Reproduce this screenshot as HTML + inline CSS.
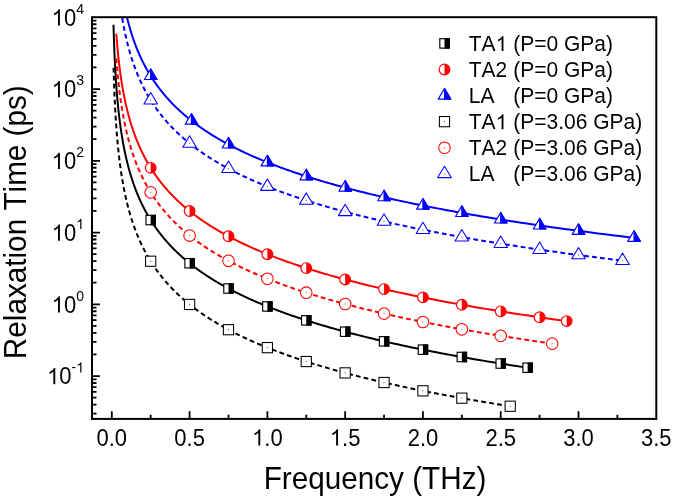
<!DOCTYPE html><html><head><meta charset="utf-8"><style>html,body{margin:0;padding:0;background:#fff;}svg{display:block;filter:blur(0.3px);}.t{opacity:0.995}text{font-family:"Liberation Sans",sans-serif;font-kerning:none;}</style></head><body>
<svg width="675" height="499" viewBox="0 0 675 499">
<defs><clipPath id="c"><rect x="92.0" y="17.2" width="564.3" height="401.7"/></clipPath></defs>
<defs><path id="one" d="M763,0 L583,0 L583,1102 Q518,1043 412.5,983 Q307,924 223,894 L223,1061 Q374,1129 488,1226 Q602,1323 647,1409 L763,1409 Z"/></defs>
<rect width="675" height="499" fill="#fff"/>
<g clip-path="url(#c)" fill="none" stroke-width="2" stroke-linejoin="round">
<polyline points="113.50,24.82 113.52,25.68 113.54,26.54 113.57,27.39 113.59,28.25 113.62,29.11 113.64,29.97 113.67,30.82 113.69,31.68 113.72,32.54 113.75,33.40 113.77,34.25 113.80,35.11 113.83,35.97 113.86,36.82 113.88,37.68 113.91,38.54 113.94,39.40 113.97,40.25 114.00,41.11 114.03,41.97 114.06,42.83 114.09,43.68 114.13,44.54 114.16,45.40 114.19,46.25 114.22,47.11 114.26,47.97 114.29,48.83 114.33,49.68 114.36,50.54 114.40,51.40 114.43,52.26 114.47,53.11 114.51,53.97 114.54,54.83 114.58,55.68 114.62,56.54 114.66,57.40 114.70,58.26 114.74,59.11 114.78,59.97 114.82,60.83 114.86,61.69 114.91,62.54 114.95,63.40 114.99,64.26 115.04,65.11 115.08,65.97 115.13,66.83 115.17,67.69 115.22,68.54 115.27,69.40 115.32,70.26 115.36,71.12 115.41,71.97 115.46,72.83 115.51,73.69 115.57,74.54 115.62,75.40 115.67,76.26 115.72,77.12 115.78,77.97 115.83,78.83 115.89,79.69 115.95,80.55 116.00,81.40 116.06,82.26 116.12,83.12 116.18,83.97 116.24,84.83 116.30,85.69 116.37,86.55 116.43,87.40 116.49,88.26 116.56,89.12 116.62,89.97 116.69,90.83 116.76,91.69 116.83,92.55 116.90,93.40 116.97,94.26 117.04,95.12 117.11,95.98 117.18,96.83 117.26,97.69 117.33,98.55 117.41,99.40 117.49,100.26 117.57,101.12 117.65,101.98 117.73,102.83 117.81,103.69 117.89,104.55 117.98,105.41 118.06,106.26 118.15,107.12 118.24,107.98 118.33,108.83 118.42,109.69 118.51,110.55 118.60,111.41 118.70,112.26 118.79,113.12 118.89,113.98 118.99,114.84 119.09,115.69 119.19,116.55 119.29,117.41 119.39,118.26 119.50,119.12 119.61,119.98 119.71,120.84 119.82,121.69 119.94,122.55 120.05,123.41 120.16,124.27 120.28,125.12 120.40,125.98 120.51,126.84 120.64,127.69 120.76,128.55 120.88,129.41 121.01,130.27 121.14,131.12 121.26,131.98 121.40,132.84 121.53,133.70 121.66,134.55 121.80,135.41 121.94,136.27 122.08,137.12 122.22,137.98 122.37,138.84 122.51,139.70 122.66,140.55 122.81,141.41 122.96,142.27 123.12,143.12 123.27,143.98 123.43,144.84 123.59,145.70 123.76,146.55 123.92,147.41 124.09,148.27 124.26,149.13 124.43,149.98 124.61,150.84 124.79,151.70 124.97,152.55 125.15,153.41 125.33,154.27 125.52,155.13 125.71,155.98 125.90,156.84 126.10,157.70 126.30,158.56 126.50,159.41 126.70,160.27 126.91,161.13 127.12,161.98 127.33,162.84 127.54,163.70 127.76,164.56 127.98,165.41 128.21,166.27 128.44,167.13 128.67,167.99 128.90,168.84 129.14,169.70 129.38,170.56 129.62,171.41 129.87,172.27 130.12,173.13 130.37,173.99 130.63,174.84 130.89,175.70 131.15,176.56 131.42,177.42 131.69,178.27 131.97,179.13 132.25,179.99 132.53,180.84 132.82,181.70 133.11,182.56 133.40,183.42 133.70,184.27 134.01,185.13 134.31,185.99 134.63,186.85 134.94,187.70 135.26,188.56 135.59,189.42 135.92,190.27 136.25,191.13 136.59,191.99 136.93,192.85 137.28,193.70 137.63,194.56 137.99,195.42 138.35,196.28 138.72,197.13 139.10,197.99 139.47,198.85 139.86,199.70 140.25,200.56 140.64,201.42 141.04,202.28 141.44,203.13 141.85,203.99 142.27,204.85 142.69,205.70 143.12,206.56 143.55,207.42 143.99,208.28 144.44,209.13 144.89,209.99 145.35,210.85 145.81,211.71 146.29,212.56 146.76,213.42 147.25,214.28 147.74,215.13 148.24,215.99 148.74,216.85 149.25,217.71 149.77,218.56 150.30,219.42 150.83,220.28 151.37,221.14 151.92,221.99 152.48,222.85 153.04,223.71 153.61,224.56 154.19,225.42 154.78,226.28 155.37,227.14 155.97,227.99 156.59,228.85 157.21,229.71 157.84,230.57 158.47,231.42 159.12,232.28 159.78,233.14 160.44,233.99 161.11,234.85 161.80,235.71 162.49,236.57 163.19,237.42 163.90,238.28 164.62,239.14 165.36,240.00 166.10,240.85 166.85,241.71 167.61,242.57 168.39,243.42 169.17,244.28 169.96,245.14 170.77,246.00 171.59,246.85 172.41,247.71 173.25,248.57 174.10,249.43 174.97,250.28 175.84,251.14 176.73,252.00 177.63,252.85 178.54,253.71 179.47,254.57 180.40,255.43 181.35,256.28 182.32,257.14 183.29,258.00 184.28,258.85 185.29,259.71 186.30,260.57 187.34,261.43 188.38,262.28 189.44,263.14 190.52,264.00 191.61,264.86 192.71,265.71 193.84,266.57 194.97,267.43 196.12,268.28 197.29,269.14 198.48,270.00 199.68,270.86 200.89,271.71 202.13,272.57 203.38,273.43 204.65,274.29 205.93,275.14 207.24,276.00 208.56,276.86 209.90,277.71 211.26,278.57 212.63,279.43 214.03,280.29 215.45,281.14 216.88,282.00 218.34,282.86 219.81,283.72 221.31,284.57 222.83,285.43 224.36,286.29 225.92,287.14 227.50,288.00 229.11,288.86 230.73,289.72 232.38,290.57 234.05,291.43 235.74,292.29 237.46,293.15 239.20,294.00 240.96,294.86 242.75,295.72 244.57,296.57 246.41,297.43 248.27,298.29 250.16,299.15 252.08,300.00 254.02,300.86 255.99,301.72 257.99,302.58 260.01,303.43 262.06,304.29 264.14,305.15 266.25,306.00 268.39,306.86 270.56,307.72 272.76,308.58 274.99,309.43 277.25,310.29 279.54,311.15 281.87,312.01 284.22,312.86 286.61,313.72 289.03,314.58 291.49,315.43 293.98,316.29 296.50,317.15 299.06,318.01 301.65,318.86 304.28,319.72 306.95,320.58 309.65,321.43 312.39,322.29 315.17,323.15 317.98,324.01 320.84,324.86 323.73,325.72 326.67,326.58 329.65,327.44 332.66,328.29 335.72,329.15 338.82,330.01 341.97,330.86 345.16,331.72 348.39,332.58 351.67,333.44 354.99,334.29 358.36,335.15 361.77,336.01 365.23,336.87 368.74,337.72 372.30,338.58 375.91,339.44 379.57,340.29 383.28,341.15 387.04,342.01 390.85,342.87 394.71,343.72 398.63,344.58 402.61,345.44 406.63,346.30 410.72,347.15 414.86,348.01 419.05,348.87 423.31,349.72 427.62,350.58 432.00,351.44 436.43,352.30 440.93,353.15 445.49,354.01 450.11,354.87 454.80,355.73 459.55,356.58 464.36,357.44 469.25,358.30 474.20,359.15 479.22,360.01 484.31,360.87 489.47,361.73 494.70,362.58 500.00,363.44 505.38,364.30 510.83,365.16 516.35,366.01 521.96,366.87 527.64,367.73" stroke="#000"/>
<polyline points="116.33,33.79 116.38,34.51 116.43,35.22 116.49,35.94 116.54,36.66 116.60,37.38 116.65,38.10 116.71,38.81 116.76,39.53 116.82,40.25 116.88,40.97 116.94,41.69 117.00,42.41 117.06,43.12 117.12,43.84 117.18,44.56 117.24,45.28 117.31,46.00 117.37,46.72 117.44,47.43 117.50,48.15 117.57,48.87 117.63,49.59 117.70,50.31 117.77,51.03 117.84,51.74 117.91,52.46 117.98,53.18 118.05,53.90 118.12,54.62 118.20,55.33 118.27,56.05 118.35,56.77 118.42,57.49 118.50,58.21 118.58,58.93 118.65,59.64 118.73,60.36 118.81,61.08 118.90,61.80 118.98,62.52 119.06,63.24 119.15,63.95 119.23,64.67 119.32,65.39 119.40,66.11 119.49,66.83 119.58,67.54 119.67,68.26 119.76,68.98 119.86,69.70 119.95,70.42 120.04,71.14 120.14,71.85 120.24,72.57 120.33,73.29 120.43,74.01 120.53,74.73 120.63,75.45 120.74,76.16 120.84,76.88 120.94,77.60 121.05,78.32 121.16,79.04 121.27,79.76 121.38,80.47 121.49,81.19 121.60,81.91 121.71,82.63 121.83,83.35 121.94,84.06 122.06,84.78 122.18,85.50 122.30,86.22 122.42,86.94 122.55,87.66 122.67,88.37 122.80,89.09 122.92,89.81 123.05,90.53 123.18,91.25 123.31,91.97 123.45,92.68 123.58,93.40 123.72,94.12 123.86,94.84 124.00,95.56 124.14,96.27 124.28,96.99 124.43,97.71 124.57,98.43 124.72,99.15 124.87,99.87 125.02,100.58 125.18,101.30 125.33,102.02 125.49,102.74 125.65,103.46 125.81,104.18 125.97,104.89 126.13,105.61 126.30,106.33 126.47,107.05 126.64,107.77 126.81,108.48 126.98,109.20 127.16,109.92 127.34,110.64 127.52,111.36 127.70,112.08 127.88,112.79 128.07,113.51 128.26,114.23 128.45,114.95 128.64,115.67 128.84,116.39 129.04,117.10 129.24,117.82 129.44,118.54 129.64,119.26 129.85,119.98 130.06,120.70 130.27,121.41 130.48,122.13 130.70,122.85 130.92,123.57 131.14,124.29 131.37,125.00 131.59,125.72 131.82,126.44 132.05,127.16 132.29,127.88 132.53,128.60 132.77,129.31 133.01,130.03 133.25,130.75 133.50,131.47 133.75,132.19 134.01,132.91 134.27,133.62 134.53,134.34 134.79,135.06 135.06,135.78 135.33,136.50 135.60,137.21 135.88,137.93 136.15,138.65 136.44,139.37 136.72,140.09 137.01,140.81 137.30,141.52 137.60,142.24 137.90,142.96 138.20,143.68 138.51,144.40 138.82,145.12 139.13,145.83 139.45,146.55 139.77,147.27 140.09,147.99 140.42,148.71 140.75,149.43 141.09,150.14 141.43,150.86 141.77,151.58 142.12,152.30 142.47,153.02 142.82,153.73 143.18,154.45 143.55,155.17 143.91,155.89 144.29,156.61 144.66,157.33 145.04,158.04 145.43,158.76 145.82,159.48 146.21,160.20 146.61,160.92 147.02,161.64 147.42,162.35 147.84,163.07 148.26,163.79 148.68,164.51 149.11,165.23 149.54,165.94 149.98,166.66 150.42,167.38 150.87,168.10 151.32,168.82 151.78,169.54 152.24,170.25 152.71,170.97 153.18,171.69 153.66,172.41 154.15,173.13 154.64,173.85 155.14,174.56 155.64,175.28 156.15,176.00 156.66,176.72 157.18,177.44 157.71,178.15 158.24,178.87 158.78,179.59 159.32,180.31 159.87,181.03 160.43,181.75 160.99,182.46 161.56,183.18 162.14,183.90 162.72,184.62 163.31,185.34 163.91,186.06 164.51,186.77 165.13,187.49 165.74,188.21 166.37,188.93 167.00,189.65 167.64,190.37 168.29,191.08 168.94,191.80 169.61,192.52 170.28,193.24 170.95,193.96 171.64,194.67 172.33,195.39 173.03,196.11 173.74,196.83 174.46,197.55 175.19,198.27 175.92,198.98 176.67,199.70 177.42,200.42 178.18,201.14 178.95,201.86 179.73,202.58 180.51,203.29 181.31,204.01 182.12,204.73 182.93,205.45 183.76,206.17 184.59,206.88 185.43,207.60 186.29,208.32 187.15,209.04 188.02,209.76 188.91,210.48 189.80,211.19 190.71,211.91 191.62,212.63 192.55,213.35 193.48,214.07 194.43,214.79 195.39,215.50 196.36,216.22 197.34,216.94 198.33,217.66 199.33,218.38 200.34,219.10 201.37,219.81 202.41,220.53 203.46,221.25 204.52,221.97 205.60,222.69 206.68,223.40 207.78,224.12 208.90,224.84 210.02,225.56 211.16,226.28 212.31,227.00 213.48,227.71 214.66,228.43 215.85,229.15 217.05,229.87 218.27,230.59 219.51,231.31 220.76,232.02 222.02,232.74 223.30,233.46 224.59,234.18 225.90,234.90 227.22,235.61 228.56,236.33 229.91,237.05 231.28,237.77 232.67,238.49 234.07,239.21 235.48,239.92 236.92,240.64 238.37,241.36 239.84,242.08 241.32,242.80 242.82,243.52 244.34,244.23 245.88,244.95 247.43,245.67 249.00,246.39 250.59,247.11 252.20,247.82 253.83,248.54 255.48,249.26 257.14,249.98 258.83,250.70 260.53,251.42 262.25,252.13 264.00,252.85 265.76,253.57 267.55,254.29 269.35,255.01 271.18,255.73 273.03,256.44 274.89,257.16 276.79,257.88 278.70,258.60 280.63,259.32 282.59,260.04 284.57,260.75 286.57,261.47 288.60,262.19 290.65,262.91 292.72,263.63 294.82,264.34 296.94,265.06 299.08,265.78 301.26,266.50 303.45,267.22 305.67,267.94 307.92,268.65 310.19,269.37 312.49,270.09 314.82,270.81 317.17,271.53 319.55,272.25 321.96,272.96 324.40,273.68 326.86,274.40 329.36,275.12 331.88,275.84 334.43,276.55 337.01,277.27 339.62,277.99 342.26,278.71 344.93,279.43 347.63,280.15 350.37,280.86 353.13,281.58 355.93,282.30 358.76,283.02 361.62,283.74 364.52,284.46 367.45,285.17 370.41,285.89 373.41,286.61 376.44,287.33 379.51,288.05 382.61,288.77 385.75,289.48 388.93,290.20 392.14,290.92 395.39,291.64 398.68,292.36 402.00,293.07 405.37,293.79 408.77,294.51 412.21,295.23 415.69,295.95 419.22,296.67 422.78,297.38 426.38,298.10 430.03,298.82 433.72,299.54 437.45,300.26 441.23,300.98 445.04,301.69 448.91,302.41 452.81,303.13 456.77,303.85 460.77,304.57 464.81,305.28 468.90,306.00 473.04,306.72 477.23,307.44 481.47,308.16 485.75,308.88 490.09,309.59 494.47,310.31 498.91,311.03 503.39,311.75 507.93,312.47 512.52,313.19 517.17,313.90 521.87,314.62 526.62,315.34 531.43,316.06 536.29,316.78 541.21,317.50 546.19,318.21 551.23,318.93 556.32,319.65 561.47,320.37 566.69,321.09" stroke="#f00"/>
<polyline points="113.50,-119.25 113.52,-118.36 113.54,-117.47 113.57,-116.57 113.60,-115.68 113.62,-114.79 113.65,-113.89 113.67,-113.00 113.70,-112.11 113.73,-111.22 113.76,-110.32 113.79,-109.43 113.81,-108.54 113.84,-107.64 113.87,-106.75 113.90,-105.86 113.93,-104.97 113.96,-104.07 113.99,-103.18 114.03,-102.29 114.06,-101.40 114.09,-100.50 114.12,-99.61 114.16,-98.72 114.19,-97.82 114.23,-96.93 114.26,-96.04 114.30,-95.15 114.33,-94.25 114.37,-93.36 114.41,-92.47 114.44,-91.58 114.48,-90.68 114.52,-89.79 114.56,-88.90 114.60,-88.00 114.64,-87.11 114.68,-86.22 114.72,-85.33 114.76,-84.43 114.81,-83.54 114.85,-82.65 114.89,-81.75 114.94,-80.86 114.98,-79.97 115.03,-79.08 115.08,-78.18 115.12,-77.29 115.17,-76.40 115.22,-75.51 115.27,-74.61 115.32,-73.72 115.37,-72.83 115.42,-71.93 115.48,-71.04 115.53,-70.15 115.58,-69.26 115.64,-68.36 115.69,-67.47 115.75,-66.58 115.81,-65.69 115.86,-64.79 115.92,-63.90 115.98,-63.01 116.04,-62.11 116.10,-61.22 116.16,-60.33 116.23,-59.44 116.29,-58.54 116.36,-57.65 116.42,-56.76 116.49,-55.86 116.56,-54.97 116.63,-54.08 116.69,-53.19 116.77,-52.29 116.84,-51.40 116.91,-50.51 116.98,-49.62 117.06,-48.72 117.13,-47.83 117.21,-46.94 117.29,-46.04 117.37,-45.15 117.45,-44.26 117.53,-43.37 117.61,-42.47 117.70,-41.58 117.78,-40.69 117.87,-39.80 117.96,-38.90 118.04,-38.01 118.13,-37.12 118.23,-36.22 118.32,-35.33 118.41,-34.44 118.51,-33.55 118.60,-32.65 118.70,-31.76 118.80,-30.87 118.90,-29.97 119.01,-29.08 119.11,-28.19 119.22,-27.30 119.32,-26.40 119.43,-25.51 119.54,-24.62 119.65,-23.73 119.77,-22.83 119.88,-21.94 120.00,-21.05 120.12,-20.15 120.24,-19.26 120.36,-18.37 120.48,-17.48 120.61,-16.58 120.73,-15.69 120.86,-14.80 120.99,-13.91 121.13,-13.01 121.26,-12.12 121.40,-11.23 121.54,-10.33 121.68,-9.44 121.82,-8.55 121.96,-7.66 122.11,-6.76 122.26,-5.87 122.41,-4.98 122.56,-4.08 122.72,-3.19 122.88,-2.30 123.03,-1.41 123.20,-0.51 123.36,0.38 123.53,1.27 123.70,2.16 123.87,3.06 124.04,3.95 124.22,4.84 124.40,5.74 124.58,6.63 124.77,7.52 124.95,8.41 125.14,9.31 125.33,10.20 125.53,11.09 125.73,11.98 125.93,12.88 126.13,13.77 126.34,14.66 126.55,15.56 126.76,16.45 126.98,17.34 127.20,18.23 127.42,19.13 127.64,20.02 127.87,20.91 128.10,21.81 128.34,22.70 128.58,23.59 128.82,24.48 129.07,25.38 129.32,26.27 129.57,27.16 129.82,28.05 130.08,28.95 130.35,29.84 130.62,30.73 130.89,31.63 131.16,32.52 131.44,33.41 131.73,34.30 132.01,35.20 132.31,36.09 132.60,36.98 132.90,37.87 133.21,38.77 133.51,39.66 133.83,40.55 134.15,41.45 134.47,42.34 134.79,43.23 135.13,44.12 135.46,45.02 135.80,45.91 136.15,46.80 136.50,47.70 136.86,48.59 137.22,49.48 137.59,50.37 137.96,51.27 138.34,52.16 138.72,53.05 139.11,53.94 139.50,54.84 139.90,55.73 140.31,56.62 140.72,57.52 141.14,58.41 141.56,59.30 141.99,60.19 142.42,61.09 142.87,61.98 143.31,62.87 143.77,63.76 144.23,64.66 144.70,65.55 145.17,66.44 145.65,67.34 146.14,68.23 146.64,69.12 147.14,70.01 147.65,70.91 148.17,71.80 148.69,72.69 149.22,73.58 149.76,74.48 150.31,75.37 150.87,76.26 151.43,77.16 152.00,78.05 152.58,78.94 153.17,79.83 153.77,80.73 154.37,81.62 154.99,82.51 155.61,83.41 156.24,84.30 156.89,85.19 157.54,86.08 158.20,86.98 158.86,87.87 159.54,88.76 160.23,89.65 160.93,90.55 161.64,91.44 162.36,92.33 163.09,93.23 163.83,94.12 164.58,95.01 165.34,95.90 166.11,96.80 166.90,97.69 167.69,98.58 168.50,99.47 169.32,100.37 170.15,101.26 170.99,102.15 171.84,103.05 172.71,103.94 173.59,104.83 174.48,105.72 175.38,106.62 176.30,107.51 177.23,108.40 178.18,109.30 179.13,110.19 180.10,111.08 181.09,111.97 182.09,112.87 183.10,113.76 184.13,114.65 185.18,115.54 186.24,116.44 187.31,117.33 188.40,118.22 189.50,119.12 190.63,120.01 191.76,120.90 192.92,121.79 194.09,122.69 195.27,123.58 196.48,124.47 197.70,125.36 198.94,126.26 200.20,127.15 201.47,128.04 202.77,128.94 204.08,129.83 205.41,130.72 206.76,131.61 208.13,132.51 209.52,133.40 210.93,134.29 212.36,135.19 213.81,136.08 215.28,136.97 216.78,137.86 218.29,138.76 219.83,139.65 221.39,140.54 222.97,141.43 224.57,142.33 226.20,143.22 227.85,144.11 229.52,145.01 231.22,145.90 232.94,146.79 234.69,147.68 236.47,148.58 238.26,149.47 240.09,150.36 241.94,151.25 243.82,152.15 245.72,153.04 247.65,153.93 249.61,154.83 251.60,155.72 253.62,156.61 255.67,157.50 257.74,158.40 259.85,159.29 261.98,160.18 264.15,161.08 266.35,161.97 268.58,162.86 270.84,163.75 273.14,164.65 275.46,165.54 277.82,166.43 280.22,167.32 282.65,168.22 285.12,169.11 287.62,170.00 290.15,170.90 292.73,171.79 295.34,172.68 297.98,173.57 300.67,174.47 303.40,175.36 306.16,176.25 308.96,177.14 311.81,178.04 314.69,178.93 317.62,179.82 320.59,180.72 323.60,181.61 326.66,182.50 329.76,183.39 332.90,184.29 336.10,185.18 339.33,186.07 342.61,186.97 345.94,187.86 349.32,188.75 352.75,189.64 356.23,190.54 359.75,191.43 363.33,192.32 366.96,193.21 370.64,194.11 374.38,195.00 378.16,195.89 382.01,196.79 385.91,197.68 389.86,198.57 393.87,199.46 397.94,200.36 402.07,201.25 406.26,202.14 410.51,203.03 414.82,203.93 419.19,204.82 423.62,205.71 428.12,206.61 432.69,207.50 437.32,208.39 442.01,209.28 446.78,210.18 451.61,211.07 456.51,211.96 461.49,212.86 466.53,213.75 471.65,214.64 476.84,215.53 482.11,216.43 487.45,217.32 492.87,218.21 498.37,219.10 503.95,220.00 509.61,220.89 515.35,221.78 521.17,222.68 527.08,223.57 533.07,224.46 539.15,225.35 545.31,226.25 551.57,227.14 557.91,228.03 564.35,228.92 570.88,229.82 577.50,230.71 584.22,231.60 591.04,232.50 597.95,233.39 604.96,234.28 612.08,235.17 619.30,236.07 626.62,236.96 634.05,237.85" stroke="#00f"/>
<polyline points="113.54,67.70 113.57,68.55 113.59,69.39 113.61,70.24 113.64,71.09 113.66,71.93 113.69,72.78 113.72,73.62 113.74,74.47 113.77,75.32 113.80,76.16 113.82,77.01 113.85,77.86 113.88,78.70 113.91,79.55 113.94,80.40 113.97,81.24 113.99,82.09 114.02,82.93 114.06,83.78 114.09,84.63 114.12,85.47 114.15,86.32 114.18,87.17 114.21,88.01 114.25,88.86 114.28,89.71 114.31,90.55 114.35,91.40 114.38,92.24 114.42,93.09 114.45,93.94 114.49,94.78 114.53,95.63 114.56,96.48 114.60,97.32 114.64,98.17 114.68,99.02 114.72,99.86 114.76,100.71 114.80,101.55 114.84,102.40 114.88,103.25 114.92,104.09 114.97,104.94 115.01,105.79 115.05,106.63 115.10,107.48 115.14,108.33 115.19,109.17 115.24,110.02 115.28,110.86 115.33,111.71 115.38,112.56 115.43,113.40 115.48,114.25 115.53,115.10 115.58,115.94 115.63,116.79 115.68,117.64 115.74,118.48 115.79,119.33 115.84,120.17 115.90,121.02 115.96,121.87 116.01,122.71 116.07,123.56 116.13,124.41 116.19,125.25 116.25,126.10 116.31,126.94 116.37,127.79 116.43,128.64 116.50,129.48 116.56,130.33 116.62,131.18 116.69,132.02 116.76,132.87 116.83,133.72 116.89,134.56 116.96,135.41 117.03,136.25 117.11,137.10 117.18,137.95 117.25,138.79 117.33,139.64 117.40,140.49 117.48,141.33 117.56,142.18 117.64,143.03 117.72,143.87 117.80,144.72 117.88,145.56 117.96,146.41 118.05,147.26 118.13,148.10 118.22,148.95 118.31,149.80 118.39,150.64 118.48,151.49 118.58,152.34 118.67,153.18 118.76,154.03 118.86,154.87 118.95,155.72 119.05,156.57 119.15,157.41 119.25,158.26 119.35,159.11 119.46,159.95 119.56,160.80 119.67,161.65 119.77,162.49 119.88,163.34 119.99,164.18 120.11,165.03 120.22,165.88 120.34,166.72 120.45,167.57 120.57,168.42 120.69,169.26 120.81,170.11 120.93,170.96 121.06,171.80 121.19,172.65 121.31,173.49 121.44,174.34 121.58,175.19 121.71,176.03 121.85,176.88 121.98,177.73 122.12,178.57 122.26,179.42 122.41,180.27 122.55,181.11 122.70,181.96 122.85,182.80 123.00,183.65 123.15,184.50 123.31,185.34 123.46,186.19 123.62,187.04 123.79,187.88 123.95,188.73 124.12,189.58 124.28,190.42 124.45,191.27 124.63,192.11 124.80,192.96 124.98,193.81 125.16,194.65 125.34,195.50 125.53,196.35 125.72,197.19 125.91,198.04 126.10,198.89 126.30,199.73 126.49,200.58 126.69,201.42 126.90,202.27 127.10,203.12 127.31,203.96 127.53,204.81 127.74,205.66 127.96,206.50 128.18,207.35 128.40,208.20 128.63,209.04 128.86,209.89 129.09,210.73 129.33,211.58 129.57,212.43 129.81,213.27 130.06,214.12 130.31,214.97 130.56,215.81 130.82,216.66 131.08,217.51 131.34,218.35 131.61,219.20 131.88,220.04 132.16,220.89 132.43,221.74 132.72,222.58 133.00,223.43 133.29,224.28 133.59,225.12 133.88,225.97 134.19,226.82 134.49,227.66 134.80,228.51 135.12,229.35 135.44,230.20 135.76,231.05 136.09,231.89 136.42,232.74 136.75,233.59 137.10,234.43 137.44,235.28 137.79,236.13 138.15,236.97 138.51,237.82 138.87,238.66 139.24,239.51 139.62,240.36 140.00,241.20 140.38,242.05 140.78,242.90 141.17,243.74 141.57,244.59 141.98,245.44 142.39,246.28 142.81,247.13 143.23,247.97 143.66,248.82 144.10,249.67 144.54,250.51 144.99,251.36 145.44,252.21 145.90,253.05 146.37,253.90 146.84,254.75 147.32,255.59 147.81,256.44 148.30,257.28 148.80,258.13 149.30,258.98 149.82,259.82 150.34,260.67 150.86,261.52 151.40,262.36 151.94,263.21 152.49,264.06 153.05,264.90 153.61,265.75 154.18,266.59 154.76,267.44 155.35,268.29 155.94,269.13 156.55,269.98 157.16,270.83 157.78,271.67 158.41,272.52 159.04,273.37 159.69,274.21 160.35,275.06 161.01,275.90 161.68,276.75 162.36,277.60 163.06,278.44 163.76,279.29 164.47,280.14 165.19,280.98 165.92,281.83 166.66,282.68 167.41,283.52 168.17,284.37 168.94,285.21 169.72,286.06 170.51,286.91 171.31,287.75 172.13,288.60 172.95,289.45 173.79,290.29 174.64,291.14 175.50,291.99 176.37,292.83 177.25,293.68 178.14,294.52 179.05,295.37 179.97,296.22 180.90,297.06 181.85,297.91 182.81,298.76 183.78,299.60 184.76,300.45 185.76,301.30 186.77,302.14 187.79,302.99 188.83,303.83 189.89,304.68 190.95,305.53 192.04,306.37 193.13,307.22 194.25,308.07 195.37,308.91 196.52,309.76 197.67,310.61 198.85,311.45 200.04,312.30 201.25,313.14 202.47,313.99 203.71,314.84 204.96,315.68 206.24,316.53 207.53,317.38 208.84,318.22 210.17,319.07 211.51,319.92 212.87,320.76 214.26,321.61 215.66,322.45 217.08,323.30 218.52,324.15 219.98,324.99 221.45,325.84 222.95,326.69 224.47,327.53 226.01,328.38 227.58,329.23 229.16,330.07 230.76,330.92 232.39,331.76 234.04,332.61 235.71,333.46 237.41,334.30 239.12,335.15 240.86,336.00 242.63,336.84 244.42,337.69 246.23,338.53 248.07,339.38 249.93,340.23 251.82,341.07 253.73,341.92 255.68,342.77 257.64,343.61 259.64,344.46 261.66,345.31 263.71,346.15 265.78,347.00 267.89,347.84 270.02,348.69 272.19,349.54 274.38,350.38 276.60,351.23 278.86,352.08 281.14,352.92 283.46,353.77 285.80,354.62 288.18,355.46 290.59,356.31 293.04,357.15 295.52,358.00 298.03,358.85 300.58,359.69 303.16,360.54 305.77,361.39 308.43,362.23 311.11,363.08 313.84,363.93 316.60,364.77 319.40,365.62 322.24,366.46 325.12,367.31 328.04,368.16 330.99,369.00 333.99,369.85 337.03,370.70 340.11,371.54 343.23,372.39 346.39,373.24 349.60,374.08 352.85,374.93 356.15,375.77 359.49,376.62 362.88,377.47 366.31,378.31 369.79,379.16 373.32,380.01 376.89,380.85 380.52,381.70 384.19,382.55 387.91,383.39 391.69,384.24 395.52,385.08 399.40,385.93 403.33,386.78 407.32,387.62 411.36,388.47 415.45,389.32 419.60,390.16 423.81,391.01 428.08,391.86 432.40,392.70 436.79,393.55 441.23,394.39 445.73,395.24 450.30,396.09 454.93,396.93 459.62,397.78 464.38,398.63 469.20,399.47 474.08,400.32 479.04,401.17 484.06,402.01 489.15,402.86 494.31,403.70 499.54,404.55 504.84,405.40 510.21,406.24" stroke="#000" stroke-dasharray="4.8,3.2"/>
<polyline points="116.33,58.33 116.38,59.04 116.43,59.75 116.49,60.47 116.54,61.18 116.59,61.89 116.65,62.60 116.70,63.32 116.76,64.03 116.82,64.74 116.88,65.46 116.93,66.17 116.99,66.88 117.05,67.60 117.11,68.31 117.17,69.02 117.24,69.74 117.30,70.45 117.36,71.16 117.43,71.88 117.49,72.59 117.56,73.30 117.62,74.02 117.69,74.73 117.76,75.44 117.83,76.16 117.90,76.87 117.97,77.58 118.04,78.30 118.11,79.01 118.18,79.72 118.25,80.44 118.33,81.15 118.40,81.86 118.48,82.57 118.56,83.29 118.64,84.00 118.71,84.71 118.79,85.43 118.87,86.14 118.96,86.85 119.04,87.57 119.12,88.28 119.21,88.99 119.29,89.71 119.38,90.42 119.46,91.13 119.55,91.85 119.64,92.56 119.73,93.27 119.82,93.99 119.92,94.70 120.01,95.41 120.10,96.13 120.20,96.84 120.30,97.55 120.39,98.27 120.49,98.98 120.59,99.69 120.69,100.41 120.80,101.12 120.90,101.83 121.00,102.54 121.11,103.26 121.22,103.97 121.33,104.68 121.43,105.40 121.55,106.11 121.66,106.82 121.77,107.54 121.89,108.25 122.00,108.96 122.12,109.68 122.24,110.39 122.36,111.10 122.48,111.82 122.60,112.53 122.73,113.24 122.85,113.96 122.98,114.67 123.11,115.38 123.24,116.10 123.37,116.81 123.50,117.52 123.64,118.24 123.78,118.95 123.91,119.66 124.05,120.38 124.19,121.09 124.34,121.80 124.48,122.51 124.63,123.23 124.77,123.94 124.92,124.65 125.07,125.37 125.23,126.08 125.38,126.79 125.54,127.51 125.70,128.22 125.86,128.93 126.02,129.65 126.18,130.36 126.35,131.07 126.51,131.79 126.68,132.50 126.86,133.21 127.03,133.93 127.20,134.64 127.38,135.35 127.56,136.07 127.74,136.78 127.93,137.49 128.11,138.21 128.30,138.92 128.49,139.63 128.68,140.35 128.87,141.06 129.07,141.77 129.27,142.48 129.47,143.20 129.67,143.91 129.88,144.62 130.09,145.34 130.30,146.05 130.51,146.76 130.73,147.48 130.94,148.19 131.17,148.90 131.39,149.62 131.61,150.33 131.84,151.04 132.07,151.76 132.31,152.47 132.54,153.18 132.78,153.90 133.02,154.61 133.27,155.32 133.51,156.04 133.76,156.75 134.02,157.46 134.27,158.18 134.53,158.89 134.79,159.60 135.06,160.31 135.32,161.03 135.60,161.74 135.87,162.45 136.15,163.17 136.43,163.88 136.71,164.59 137.00,165.31 137.29,166.02 137.58,166.73 137.88,167.45 138.18,168.16 138.48,168.87 138.79,169.59 139.10,170.30 139.41,171.01 139.73,171.73 140.05,172.44 140.38,173.15 140.71,173.87 141.04,174.58 141.37,175.29 141.71,176.01 142.06,176.72 142.41,177.43 142.76,178.15 143.12,178.86 143.48,179.57 143.84,180.28 144.21,181.00 144.58,181.71 144.96,182.42 145.34,183.14 145.73,183.85 146.12,184.56 146.51,185.28 146.91,185.99 147.32,186.70 147.73,187.42 148.14,188.13 148.56,188.84 148.98,189.56 149.41,190.27 149.84,190.98 150.28,191.70 150.72,192.41 151.17,193.12 151.62,193.84 152.08,194.55 152.55,195.26 153.01,195.98 153.49,196.69 153.97,197.40 154.45,198.12 154.95,198.83 155.44,199.54 155.94,200.25 156.45,200.97 156.97,201.68 157.49,202.39 158.01,203.11 158.54,203.82 159.08,204.53 159.63,205.25 160.18,205.96 160.73,206.67 161.30,207.39 161.87,208.10 162.44,208.81 163.03,209.53 163.61,210.24 164.21,210.95 164.81,211.67 165.42,212.38 166.04,213.09 166.67,213.81 167.30,214.52 167.94,215.23 168.58,215.95 169.24,216.66 169.90,217.37 170.57,218.09 171.24,218.80 171.93,219.51 172.62,220.22 173.32,220.94 174.03,221.65 174.74,222.36 175.47,223.08 176.20,223.79 176.94,224.50 177.69,225.22 178.45,225.93 179.22,226.64 179.99,227.36 180.78,228.07 181.57,228.78 182.37,229.50 183.19,230.21 184.01,230.92 184.84,231.64 185.68,232.35 186.53,233.06 187.39,233.78 188.26,234.49 189.14,235.20 190.03,235.92 190.93,236.63 191.84,237.34 192.76,238.06 193.70,238.77 194.64,239.48 195.59,240.19 196.56,240.91 197.53,241.62 198.52,242.33 199.52,243.05 200.53,243.76 201.55,244.47 202.58,245.19 203.62,245.90 204.68,246.61 205.75,247.33 206.83,248.04 207.93,248.75 209.03,249.47 210.15,250.18 211.28,250.89 212.43,251.61 213.59,252.32 214.76,253.03 215.94,253.75 217.14,254.46 218.35,255.17 219.58,255.89 220.82,256.60 222.08,257.31 223.35,258.02 224.63,258.74 225.93,259.45 227.24,260.16 228.57,260.88 229.91,261.59 231.27,262.30 232.65,263.02 234.04,263.73 235.45,264.44 236.87,265.16 238.31,265.87 239.77,266.58 241.24,267.30 242.73,268.01 244.24,268.72 245.76,269.44 247.30,270.15 248.86,270.86 250.44,271.58 252.03,272.29 253.65,273.00 255.28,273.72 256.93,274.43 258.60,275.14 260.29,275.86 262.00,276.57 263.73,277.28 265.48,277.99 267.25,278.71 269.04,279.42 270.85,280.13 272.68,280.85 274.53,281.56 276.40,282.27 278.30,282.99 280.21,283.70 282.15,284.41 284.11,285.13 286.10,285.84 288.10,286.55 290.13,287.27 292.18,287.98 294.26,288.69 296.36,289.41 298.48,290.12 300.63,290.83 302.81,291.55 305.00,292.26 307.23,292.97 309.48,293.69 311.75,294.40 314.05,295.11 316.38,295.83 318.74,296.54 321.12,297.25 323.53,297.96 325.96,298.68 328.43,299.39 330.92,300.10 333.45,300.82 336.00,301.53 338.58,302.24 341.19,302.96 343.83,303.67 346.50,304.38 349.20,305.10 351.93,305.81 354.70,306.52 357.49,307.24 360.32,307.95 363.18,308.66 366.07,309.38 369.00,310.09 371.96,310.80 374.95,311.52 377.98,312.23 381.05,312.94 384.15,313.66 387.28,314.37 390.45,315.08 393.66,315.80 396.90,316.51 400.18,317.22 403.50,317.93 406.86,318.65 410.26,319.36 413.69,320.07 417.17,320.79 420.68,321.50 424.24,322.21 427.83,322.93 431.47,323.64 435.15,324.35 438.87,325.07 442.64,325.78 446.44,326.49 450.30,327.21 454.19,327.92 458.13,328.63 462.12,329.35 466.15,330.06 470.23,330.77 474.35,331.49 478.53,332.20 482.75,332.91 487.02,333.63 491.34,334.34 495.71,335.05 500.12,335.77 504.59,336.48 509.11,337.19 513.69,337.90 518.31,338.62 522.99,339.33 527.73,340.04 532.51,340.76 537.35,341.47 542.25,342.18 547.21,342.90 552.22,343.61" stroke="#f00" stroke-dasharray="4.8,3.2"/>
<polyline points="113.54,-93.38 113.57,-92.49 113.59,-91.61 113.62,-90.72 113.64,-89.84 113.67,-88.95 113.70,-88.07 113.72,-87.18 113.75,-86.30 113.78,-85.41 113.81,-84.53 113.84,-83.64 113.87,-82.76 113.90,-81.87 113.93,-80.99 113.96,-80.10 113.99,-79.22 114.02,-78.33 114.05,-77.45 114.08,-76.56 114.11,-75.68 114.15,-74.79 114.18,-73.91 114.22,-73.02 114.25,-72.14 114.29,-71.25 114.32,-70.37 114.36,-69.48 114.39,-68.60 114.43,-67.71 114.47,-66.83 114.51,-65.94 114.54,-65.06 114.58,-64.17 114.62,-63.29 114.66,-62.40 114.71,-61.52 114.75,-60.63 114.79,-59.75 114.83,-58.86 114.88,-57.98 114.92,-57.09 114.96,-56.21 115.01,-55.32 115.05,-54.44 115.10,-53.55 115.15,-52.67 115.20,-51.78 115.25,-50.90 115.29,-50.01 115.34,-49.13 115.39,-48.24 115.45,-47.36 115.50,-46.47 115.55,-45.59 115.61,-44.70 115.66,-43.82 115.71,-42.93 115.77,-42.05 115.83,-41.16 115.89,-40.28 115.94,-39.39 116.00,-38.51 116.06,-37.62 116.12,-36.74 116.19,-35.85 116.25,-34.97 116.31,-34.08 116.38,-33.20 116.44,-32.31 116.51,-31.43 116.58,-30.54 116.64,-29.65 116.71,-28.77 116.78,-27.88 116.85,-27.00 116.93,-26.11 117.00,-25.23 117.07,-24.34 117.15,-23.46 117.23,-22.57 117.30,-21.69 117.38,-20.80 117.46,-19.92 117.54,-19.03 117.63,-18.15 117.71,-17.26 117.79,-16.38 117.88,-15.49 117.97,-14.61 118.06,-13.72 118.14,-12.84 118.24,-11.95 118.33,-11.07 118.42,-10.18 118.52,-9.30 118.61,-8.41 118.71,-7.53 118.81,-6.64 118.91,-5.76 119.01,-4.87 119.11,-3.99 119.22,-3.10 119.32,-2.22 119.43,-1.33 119.54,-0.45 119.65,0.44 119.76,1.32 119.88,2.21 119.99,3.09 120.11,3.98 120.23,4.86 120.35,5.75 120.47,6.63 120.60,7.52 120.72,8.40 120.85,9.29 120.98,10.17 121.11,11.06 121.24,11.94 121.38,12.83 121.51,13.71 121.65,14.60 121.79,15.48 121.94,16.37 122.08,17.25 122.23,18.14 122.38,19.02 122.53,19.91 122.68,20.79 122.84,21.68 123.00,22.56 123.16,23.45 123.32,24.33 123.48,25.22 123.65,26.10 123.82,26.99 123.99,27.87 124.17,28.76 124.34,29.64 124.52,30.53 124.71,31.41 124.89,32.30 125.08,33.18 125.27,34.07 125.46,34.95 125.66,35.84 125.85,36.72 126.05,37.61 126.26,38.49 126.47,39.38 126.67,40.26 126.89,41.15 127.10,42.03 127.32,42.92 127.54,43.80 127.77,44.69 128.00,45.57 128.23,46.46 128.46,47.34 128.70,48.23 128.94,49.11 129.19,50.00 129.44,50.89 129.69,51.77 129.95,52.66 130.21,53.54 130.47,54.43 130.74,55.31 131.01,56.20 131.28,57.08 131.56,57.97 131.84,58.85 132.13,59.74 132.42,60.62 132.72,61.51 133.02,62.39 133.32,63.28 133.63,64.16 133.94,65.05 134.26,65.93 134.58,66.82 134.90,67.70 135.23,68.59 135.57,69.47 135.91,70.36 136.25,71.24 136.60,72.13 136.96,73.01 137.32,73.90 137.68,74.78 138.05,75.67 138.43,76.55 138.81,77.44 139.19,78.32 139.59,79.21 139.98,80.09 140.39,80.98 140.80,81.86 141.21,82.75 141.63,83.63 142.06,84.52 142.49,85.40 142.93,86.29 143.37,87.17 143.83,88.06 144.28,88.94 144.75,89.83 145.22,90.71 145.70,91.60 146.18,92.48 146.68,93.37 147.17,94.25 147.68,95.14 148.19,96.02 148.71,96.91 149.24,97.79 149.78,98.68 150.32,99.56 150.87,100.45 151.43,101.33 152.00,102.22 152.57,103.10 153.15,103.99 153.75,104.87 154.35,105.76 154.95,106.64 155.57,107.53 156.20,108.41 156.83,109.30 157.48,110.18 158.13,111.07 158.79,111.95 159.47,112.84 160.15,113.72 160.84,114.61 161.54,115.49 162.25,116.38 162.97,117.26 163.70,118.15 164.45,119.03 165.20,119.92 165.96,120.80 166.74,121.69 167.52,122.57 168.32,123.46 169.13,124.34 169.95,125.23 170.78,126.11 171.63,127.00 172.48,127.88 173.35,128.77 174.23,129.65 175.12,130.54 176.03,131.43 176.95,132.31 177.88,133.20 178.82,134.08 179.78,134.97 180.75,135.85 181.74,136.74 182.74,137.62 183.76,138.51 184.78,139.39 185.83,140.28 186.89,141.16 187.96,142.05 189.05,142.93 190.16,143.82 191.28,144.70 192.41,145.59 193.57,146.47 194.74,147.36 195.92,148.24 197.12,149.13 198.35,150.01 199.58,150.90 200.84,151.78 202.11,152.67 203.40,153.55 204.71,154.44 206.04,155.32 207.39,156.21 208.76,157.09 210.14,157.98 211.55,158.86 212.98,159.75 214.43,160.63 215.89,161.52 217.38,162.40 218.89,163.29 220.42,164.17 221.98,165.06 223.55,165.94 225.15,166.83 226.77,167.71 228.42,168.60 230.09,169.48 231.78,170.37 233.49,171.25 235.23,172.14 237.00,173.02 238.79,173.91 240.61,174.79 242.45,175.68 244.32,176.56 246.21,177.45 248.13,178.33 250.08,179.22 252.06,180.10 254.07,180.99 256.10,181.87 258.17,182.76 260.26,183.64 262.38,184.53 264.54,185.41 266.72,186.30 268.94,187.18 271.19,188.07 273.47,188.95 275.78,189.84 278.12,190.72 280.50,191.61 282.92,192.49 285.36,193.38 287.85,194.26 290.36,195.15 292.92,196.03 295.51,196.92 298.14,197.80 300.80,198.69 303.50,199.57 306.25,200.46 309.03,201.34 311.85,202.23 314.71,203.11 317.61,204.00 320.55,204.88 323.54,205.77 326.57,206.65 329.64,207.54 332.76,208.42 335.92,209.31 339.12,210.19 342.37,211.08 345.67,211.97 349.02,212.85 352.41,213.74 355.85,214.62 359.34,215.51 362.88,216.39 366.47,217.28 370.12,218.16 373.81,219.05 377.56,219.93 381.36,220.82 385.21,221.70 389.12,222.59 393.09,223.47 397.11,224.36 401.20,225.24 405.33,226.13 409.53,227.01 413.79,227.90 418.11,228.78 422.49,229.67 426.94,230.55 431.44,231.44 436.01,232.32 440.65,233.21 445.36,234.09 450.13,234.98 454.97,235.86 459.87,236.75 464.85,237.63 469.90,238.52 475.02,239.40 480.22,240.29 485.49,241.17 490.83,242.06 496.25,242.94 501.75,243.83 507.33,244.71 512.99,245.60 518.73,246.48 524.55,247.37 530.45,248.25 536.44,249.14 542.51,250.02 548.67,250.91 554.92,251.79 561.26,252.68 567.69,253.56 574.21,254.45 580.82,255.33 587.53,256.22 594.33,257.10 601.23,257.99 608.23,258.87 615.33,259.76 622.54,260.64" stroke="#00f" stroke-dasharray="4.8,3.2"/>
</g>
<rect x="145.99" y="215.36" width="9.40" height="9.40" fill="#fff" stroke="#000" stroke-width="1.15"/>
<rect x="150.69" y="214.78" width="5.28" height="10.55" fill="#000"/>
<rect x="184.88" y="258.55" width="9.40" height="9.40" fill="#fff" stroke="#000" stroke-width="1.15"/>
<rect x="189.58" y="257.98" width="5.28" height="10.55" fill="#000"/>
<rect x="223.78" y="283.82" width="9.40" height="9.40" fill="#fff" stroke="#000" stroke-width="1.15"/>
<rect x="228.48" y="283.25" width="5.28" height="10.55" fill="#000"/>
<rect x="262.67" y="301.75" width="9.40" height="9.40" fill="#fff" stroke="#000" stroke-width="1.15"/>
<rect x="267.37" y="301.18" width="5.28" height="10.55" fill="#000"/>
<rect x="301.56" y="315.66" width="9.40" height="9.40" fill="#fff" stroke="#000" stroke-width="1.15"/>
<rect x="306.26" y="315.08" width="5.28" height="10.55" fill="#000"/>
<rect x="340.45" y="327.02" width="9.40" height="9.40" fill="#fff" stroke="#000" stroke-width="1.15"/>
<rect x="345.15" y="326.45" width="5.28" height="10.55" fill="#000"/>
<rect x="379.35" y="336.63" width="9.40" height="9.40" fill="#fff" stroke="#000" stroke-width="1.15"/>
<rect x="384.05" y="336.05" width="5.28" height="10.55" fill="#000"/>
<rect x="418.24" y="344.95" width="9.40" height="9.40" fill="#fff" stroke="#000" stroke-width="1.15"/>
<rect x="422.94" y="344.38" width="5.28" height="10.55" fill="#000"/>
<rect x="457.13" y="352.29" width="9.40" height="9.40" fill="#fff" stroke="#000" stroke-width="1.15"/>
<rect x="461.83" y="351.72" width="5.28" height="10.55" fill="#000"/>
<rect x="496.02" y="358.86" width="9.40" height="9.40" fill="#fff" stroke="#000" stroke-width="1.15"/>
<rect x="500.72" y="358.28" width="5.28" height="10.55" fill="#000"/>
<rect x="522.94" y="363.03" width="9.40" height="9.40" fill="#fff" stroke="#000" stroke-width="1.15"/>
<rect x="527.64" y="362.45" width="5.28" height="10.55" fill="#000"/>
<circle cx="150.69" cy="167.82" r="5.35" fill="#fff" stroke="#f00" stroke-width="1.15"/>
<path d="M150.69,162.47 A5.35,5.35 0 0 1 150.69,173.17 Z" fill="#f00"/>
<circle cx="189.58" cy="211.02" r="5.35" fill="#fff" stroke="#f00" stroke-width="1.15"/>
<path d="M189.58,205.67 A5.35,5.35 0 0 1 189.58,216.37 Z" fill="#f00"/>
<circle cx="228.48" cy="236.29" r="5.35" fill="#fff" stroke="#f00" stroke-width="1.15"/>
<path d="M228.48,230.94 A5.35,5.35 0 0 1 228.48,241.64 Z" fill="#f00"/>
<circle cx="267.37" cy="254.22" r="5.35" fill="#fff" stroke="#f00" stroke-width="1.15"/>
<path d="M267.37,248.87 A5.35,5.35 0 0 1 267.37,259.57 Z" fill="#f00"/>
<circle cx="306.26" cy="268.13" r="5.35" fill="#fff" stroke="#f00" stroke-width="1.15"/>
<path d="M306.26,262.78 A5.35,5.35 0 0 1 306.26,273.48 Z" fill="#f00"/>
<circle cx="345.15" cy="279.49" r="5.35" fill="#fff" stroke="#f00" stroke-width="1.15"/>
<path d="M345.15,274.14 A5.35,5.35 0 0 1 345.15,284.84 Z" fill="#f00"/>
<circle cx="384.05" cy="289.09" r="5.35" fill="#fff" stroke="#f00" stroke-width="1.15"/>
<path d="M384.05,283.74 A5.35,5.35 0 0 1 384.05,294.44 Z" fill="#f00"/>
<circle cx="422.94" cy="297.42" r="5.35" fill="#fff" stroke="#f00" stroke-width="1.15"/>
<path d="M422.94,292.07 A5.35,5.35 0 0 1 422.94,302.77 Z" fill="#f00"/>
<circle cx="461.83" cy="304.76" r="5.35" fill="#fff" stroke="#f00" stroke-width="1.15"/>
<path d="M461.83,299.41 A5.35,5.35 0 0 1 461.83,310.11 Z" fill="#f00"/>
<circle cx="500.72" cy="311.32" r="5.35" fill="#fff" stroke="#f00" stroke-width="1.15"/>
<path d="M500.72,305.97 A5.35,5.35 0 0 1 500.72,316.67 Z" fill="#f00"/>
<circle cx="539.62" cy="317.26" r="5.35" fill="#fff" stroke="#f00" stroke-width="1.15"/>
<path d="M539.62,311.91 A5.35,5.35 0 0 1 539.62,322.61 Z" fill="#f00"/>
<circle cx="566.69" cy="321.09" r="5.35" fill="#fff" stroke="#f00" stroke-width="1.15"/>
<path d="M566.69,315.74 A5.35,5.35 0 0 1 566.69,326.44 Z" fill="#f00"/>
<path d="M150.69,68.92 L156.99,79.52 L144.39,79.52 Z" fill="#fff" stroke="#00f" stroke-width="1.15" stroke-linejoin="round"/>
<path d="M150.69,68.92 L156.99,79.52 L150.69,79.52 Z" fill="#00f" stroke="#00f" stroke-width="1.15" stroke-linejoin="round"/>
<path d="M191.45,113.59 L197.75,124.19 L185.15,124.19 Z" fill="#fff" stroke="#00f" stroke-width="1.15" stroke-linejoin="round"/>
<path d="M191.45,113.59 L197.75,124.19 L191.45,124.19 Z" fill="#00f" stroke="#00f" stroke-width="1.15" stroke-linejoin="round"/>
<path d="M228.48,137.38 L234.78,147.98 L222.18,147.98 Z" fill="#fff" stroke="#00f" stroke-width="1.15" stroke-linejoin="round"/>
<path d="M228.48,137.38 L234.78,147.98 L228.48,147.98 Z" fill="#00f" stroke="#00f" stroke-width="1.15" stroke-linejoin="round"/>
<path d="M267.37,155.31 L273.67,165.91 L261.07,165.91 Z" fill="#fff" stroke="#00f" stroke-width="1.15" stroke-linejoin="round"/>
<path d="M267.37,155.31 L273.67,165.91 L267.37,165.91 Z" fill="#00f" stroke="#00f" stroke-width="1.15" stroke-linejoin="round"/>
<path d="M306.26,169.22 L312.56,179.82 L299.96,179.82 Z" fill="#fff" stroke="#00f" stroke-width="1.15" stroke-linejoin="round"/>
<path d="M306.26,169.22 L312.56,179.82 L306.26,179.82 Z" fill="#00f" stroke="#00f" stroke-width="1.15" stroke-linejoin="round"/>
<path d="M345.15,180.58 L351.45,191.18 L338.85,191.18 Z" fill="#fff" stroke="#00f" stroke-width="1.15" stroke-linejoin="round"/>
<path d="M345.15,180.58 L351.45,191.18 L345.15,191.18 Z" fill="#00f" stroke="#00f" stroke-width="1.15" stroke-linejoin="round"/>
<path d="M384.05,190.19 L390.35,200.79 L377.75,200.79 Z" fill="#fff" stroke="#00f" stroke-width="1.15" stroke-linejoin="round"/>
<path d="M384.05,190.19 L390.35,200.79 L384.05,200.79 Z" fill="#00f" stroke="#00f" stroke-width="1.15" stroke-linejoin="round"/>
<path d="M422.94,198.51 L429.24,209.11 L416.64,209.11 Z" fill="#fff" stroke="#00f" stroke-width="1.15" stroke-linejoin="round"/>
<path d="M422.94,198.51 L429.24,209.11 L422.94,209.11 Z" fill="#00f" stroke="#00f" stroke-width="1.15" stroke-linejoin="round"/>
<path d="M461.83,205.85 L468.13,216.45 L455.53,216.45 Z" fill="#fff" stroke="#00f" stroke-width="1.15" stroke-linejoin="round"/>
<path d="M461.83,205.85 L468.13,216.45 L461.83,216.45 Z" fill="#00f" stroke="#00f" stroke-width="1.15" stroke-linejoin="round"/>
<path d="M500.72,212.42 L507.02,223.02 L494.42,223.02 Z" fill="#fff" stroke="#00f" stroke-width="1.15" stroke-linejoin="round"/>
<path d="M500.72,212.42 L507.02,223.02 L500.72,223.02 Z" fill="#00f" stroke="#00f" stroke-width="1.15" stroke-linejoin="round"/>
<path d="M539.62,218.36 L545.92,228.96 L533.32,228.96 Z" fill="#fff" stroke="#00f" stroke-width="1.15" stroke-linejoin="round"/>
<path d="M539.62,218.36 L545.92,228.96 L539.62,228.96 Z" fill="#00f" stroke="#00f" stroke-width="1.15" stroke-linejoin="round"/>
<path d="M578.51,223.78 L584.81,234.38 L572.21,234.38 Z" fill="#fff" stroke="#00f" stroke-width="1.15" stroke-linejoin="round"/>
<path d="M578.51,223.78 L584.81,234.38 L578.51,234.38 Z" fill="#00f" stroke="#00f" stroke-width="1.15" stroke-linejoin="round"/>
<path d="M634.05,230.79 L640.35,241.39 L627.75,241.39 Z" fill="#fff" stroke="#00f" stroke-width="1.15" stroke-linejoin="round"/>
<path d="M634.05,230.79 L640.35,241.39 L634.05,241.39 Z" fill="#00f" stroke="#00f" stroke-width="1.15" stroke-linejoin="round"/>
<rect x="145.59" y="256.14" width="10.20" height="10.20" fill="#fff" stroke="#000" stroke-width="1.05"/>
<rect x="150.19" y="260.74" width="1" height="1" fill="#000" opacity="0.75"/>
<rect x="184.48" y="299.34" width="10.20" height="10.20" fill="#fff" stroke="#000" stroke-width="1.05"/>
<rect x="189.08" y="303.94" width="1" height="1" fill="#000" opacity="0.75"/>
<rect x="223.38" y="324.61" width="10.20" height="10.20" fill="#fff" stroke="#000" stroke-width="1.05"/>
<rect x="227.98" y="329.21" width="1" height="1" fill="#000" opacity="0.75"/>
<rect x="262.27" y="342.54" width="10.20" height="10.20" fill="#fff" stroke="#000" stroke-width="1.05"/>
<rect x="266.87" y="347.14" width="1" height="1" fill="#000" opacity="0.75"/>
<rect x="301.16" y="356.44" width="10.20" height="10.20" fill="#fff" stroke="#000" stroke-width="1.05"/>
<rect x="305.76" y="361.04" width="1" height="1" fill="#000" opacity="0.75"/>
<rect x="340.05" y="367.81" width="10.20" height="10.20" fill="#fff" stroke="#000" stroke-width="1.05"/>
<rect x="344.65" y="372.41" width="1" height="1" fill="#000" opacity="0.75"/>
<rect x="378.95" y="377.41" width="10.20" height="10.20" fill="#fff" stroke="#000" stroke-width="1.05"/>
<rect x="383.55" y="382.01" width="1" height="1" fill="#000" opacity="0.75"/>
<rect x="417.84" y="385.73" width="10.20" height="10.20" fill="#fff" stroke="#000" stroke-width="1.05"/>
<rect x="422.44" y="390.33" width="1" height="1" fill="#000" opacity="0.75"/>
<rect x="456.73" y="393.08" width="10.20" height="10.20" fill="#fff" stroke="#000" stroke-width="1.05"/>
<rect x="461.33" y="397.68" width="1" height="1" fill="#000" opacity="0.75"/>
<rect x="505.11" y="401.14" width="10.20" height="10.20" fill="#fff" stroke="#000" stroke-width="1.05"/>
<rect x="509.71" y="405.74" width="1" height="1" fill="#000" opacity="0.75"/>
<circle cx="150.69" cy="192.36" r="5.8" fill="#fff" stroke="#f00" stroke-width="1.05"/>
<rect x="150.19" y="191.86" width="1" height="1" fill="#f00" opacity="0.75"/>
<circle cx="189.58" cy="235.56" r="5.8" fill="#fff" stroke="#f00" stroke-width="1.05"/>
<rect x="189.08" y="235.06" width="1" height="1" fill="#f00" opacity="0.75"/>
<circle cx="228.48" cy="260.83" r="5.8" fill="#fff" stroke="#f00" stroke-width="1.05"/>
<rect x="227.98" y="260.33" width="1" height="1" fill="#f00" opacity="0.75"/>
<circle cx="267.37" cy="278.76" r="5.8" fill="#fff" stroke="#f00" stroke-width="1.05"/>
<rect x="266.87" y="278.26" width="1" height="1" fill="#f00" opacity="0.75"/>
<circle cx="306.26" cy="292.66" r="5.8" fill="#fff" stroke="#f00" stroke-width="1.05"/>
<rect x="305.76" y="292.16" width="1" height="1" fill="#f00" opacity="0.75"/>
<circle cx="345.15" cy="304.03" r="5.8" fill="#fff" stroke="#f00" stroke-width="1.05"/>
<rect x="344.65" y="303.53" width="1" height="1" fill="#f00" opacity="0.75"/>
<circle cx="384.05" cy="313.63" r="5.8" fill="#fff" stroke="#f00" stroke-width="1.05"/>
<rect x="383.55" y="313.13" width="1" height="1" fill="#f00" opacity="0.75"/>
<circle cx="422.94" cy="321.95" r="5.8" fill="#fff" stroke="#f00" stroke-width="1.05"/>
<rect x="422.44" y="321.45" width="1" height="1" fill="#f00" opacity="0.75"/>
<circle cx="461.83" cy="329.30" r="5.8" fill="#fff" stroke="#f00" stroke-width="1.05"/>
<rect x="461.33" y="328.80" width="1" height="1" fill="#f00" opacity="0.75"/>
<circle cx="500.72" cy="335.86" r="5.8" fill="#fff" stroke="#f00" stroke-width="1.05"/>
<rect x="500.22" y="335.36" width="1" height="1" fill="#f00" opacity="0.75"/>
<circle cx="552.22" cy="343.61" r="5.8" fill="#fff" stroke="#f00" stroke-width="1.05"/>
<rect x="551.72" y="343.11" width="1" height="1" fill="#f00" opacity="0.75"/>
<path d="M150.69,92.56 L157.49,103.96 L143.89,103.96 Z" fill="#fff" stroke="#00f" stroke-width="1.05" stroke-linejoin="round"/>
<rect x="150.19" y="99.66" width="1" height="1" fill="#00f" opacity="0.75"/>
<path d="M189.58,135.76 L196.38,147.16 L182.78,147.16 Z" fill="#fff" stroke="#00f" stroke-width="1.05" stroke-linejoin="round"/>
<rect x="189.08" y="142.86" width="1" height="1" fill="#00f" opacity="0.75"/>
<path d="M228.48,161.03 L235.28,172.43 L221.68,172.43 Z" fill="#fff" stroke="#00f" stroke-width="1.05" stroke-linejoin="round"/>
<rect x="227.98" y="168.13" width="1" height="1" fill="#00f" opacity="0.75"/>
<path d="M267.37,178.96 L274.17,190.36 L260.57,190.36 Z" fill="#fff" stroke="#00f" stroke-width="1.05" stroke-linejoin="round"/>
<rect x="266.87" y="186.06" width="1" height="1" fill="#00f" opacity="0.75"/>
<path d="M306.26,192.86 L313.06,204.26 L299.46,204.26 Z" fill="#fff" stroke="#00f" stroke-width="1.05" stroke-linejoin="round"/>
<rect x="305.76" y="199.96" width="1" height="1" fill="#00f" opacity="0.75"/>
<path d="M345.15,204.23 L351.95,215.63 L338.35,215.63 Z" fill="#fff" stroke="#00f" stroke-width="1.05" stroke-linejoin="round"/>
<rect x="344.65" y="211.33" width="1" height="1" fill="#00f" opacity="0.75"/>
<path d="M384.05,213.83 L390.85,225.23 L377.25,225.23 Z" fill="#fff" stroke="#00f" stroke-width="1.05" stroke-linejoin="round"/>
<rect x="383.55" y="220.93" width="1" height="1" fill="#00f" opacity="0.75"/>
<path d="M422.94,222.16 L429.74,233.56 L416.14,233.56 Z" fill="#fff" stroke="#00f" stroke-width="1.05" stroke-linejoin="round"/>
<rect x="422.44" y="229.26" width="1" height="1" fill="#00f" opacity="0.75"/>
<path d="M461.83,229.50 L468.63,240.90 L455.03,240.90 Z" fill="#fff" stroke="#00f" stroke-width="1.05" stroke-linejoin="round"/>
<rect x="461.33" y="236.60" width="1" height="1" fill="#00f" opacity="0.75"/>
<path d="M500.72,236.06 L507.52,247.46 L493.92,247.46 Z" fill="#fff" stroke="#00f" stroke-width="1.05" stroke-linejoin="round"/>
<rect x="500.22" y="243.16" width="1" height="1" fill="#00f" opacity="0.75"/>
<path d="M539.62,242.00 L546.42,253.40 L532.82,253.40 Z" fill="#fff" stroke="#00f" stroke-width="1.05" stroke-linejoin="round"/>
<rect x="539.12" y="249.10" width="1" height="1" fill="#00f" opacity="0.75"/>
<path d="M578.51,247.43 L585.31,258.83 L571.71,258.83 Z" fill="#fff" stroke="#00f" stroke-width="1.05" stroke-linejoin="round"/>
<rect x="578.01" y="254.53" width="1" height="1" fill="#00f" opacity="0.75"/>
<path d="M622.54,253.04 L629.34,264.44 L615.74,264.44 Z" fill="#fff" stroke="#00f" stroke-width="1.05" stroke-linejoin="round"/>
<rect x="622.04" y="260.14" width="1" height="1" fill="#00f" opacity="0.75"/>
<rect x="92.0" y="17.2" width="564.30" height="401.70" fill="none" stroke="#000" stroke-width="2"/>
<path d="M92.00,413.57h4.5 M92.00,404.60h4.5 M92.00,397.65h4.5 M92.00,391.97h4.5 M92.00,387.16h4.5 M92.00,383.00h4.5 M92.00,379.33h4.5 M92.00,376.05h8 M92.00,354.45h4.5 M92.00,341.82h4.5 M92.00,332.85h4.5 M92.00,325.90h4.5 M92.00,320.22h4.5 M92.00,315.41h4.5 M92.00,311.25h4.5 M92.00,307.58h4.5 M92.00,304.30h8 M92.00,282.70h4.5 M92.00,270.07h4.5 M92.00,261.10h4.5 M92.00,254.15h4.5 M92.00,248.47h4.5 M92.00,243.66h4.5 M92.00,239.50h4.5 M92.00,235.83h4.5 M92.00,232.55h8 M92.00,210.95h4.5 M92.00,198.32h4.5 M92.00,189.35h4.5 M92.00,182.40h4.5 M92.00,176.72h4.5 M92.00,171.91h4.5 M92.00,167.75h4.5 M92.00,164.08h4.5 M92.00,160.80h8 M92.00,139.20h4.5 M92.00,126.57h4.5 M92.00,117.60h4.5 M92.00,110.65h4.5 M92.00,104.97h4.5 M92.00,100.16h4.5 M92.00,96.00h4.5 M92.00,92.33h4.5 M92.00,89.05h8 M92.00,67.45h4.5 M92.00,54.82h4.5 M92.00,45.85h4.5 M92.00,38.90h4.5 M92.00,33.22h4.5 M92.00,28.41h4.5 M92.00,24.25h4.5 M92.00,20.58h4.5 M111.80,418.90v-7.7 M150.69,418.90v-4.2 M189.58,418.90v-7.7 M228.48,418.90v-4.2 M267.37,418.90v-7.7 M306.26,418.90v-4.2 M345.15,418.90v-7.7 M384.05,418.90v-4.2 M422.94,418.90v-7.7 M461.83,418.90v-4.2 M500.72,418.90v-7.7 M539.62,418.90v-4.2 M578.51,418.90v-7.7 M617.40,418.90v-4.2" stroke="#000" stroke-width="1.8" fill="none"/>
<g class="t">
<g transform="translate(111.80,445.6) scale(1,1.08)"><text x="-15.292" y="0" font-size="22">0.0</text></g>
<g transform="translate(189.58,445.6) scale(1,1.08)"><text x="-15.292" y="0" font-size="22">0.5</text></g>
<g transform="translate(267.37,445.6) scale(1,1.08)"><text x="-15.292" y="0" font-size="22"> .0</text><use href="#one" transform="translate(-15.292,0) scale(0.01074,-0.01074)"/></g>
<g transform="translate(345.15,445.6) scale(1,1.08)"><text x="-15.292" y="0" font-size="22"> .5</text><use href="#one" transform="translate(-15.292,0) scale(0.01074,-0.01074)"/></g>
<g transform="translate(422.94,445.6) scale(1,1.08)"><text x="-15.292" y="0" font-size="22">2.0</text></g>
<g transform="translate(500.72,445.6) scale(1,1.08)"><text x="-15.292" y="0" font-size="22">2.5</text></g>
<g transform="translate(578.51,445.6) scale(1,1.08)"><text x="-15.292" y="0" font-size="22">3.0</text></g>
<g transform="translate(656.29,445.6) scale(1,1.08)"><text x="-15.292" y="0" font-size="22">3.5</text></g>
<g transform="translate(84,384.25) scale(1,1.07)"><text x="-36.919" y="0" font-size="22"> 0<tspan font-size="14" dy="-11">- </tspan></text><use href="#one" transform="translate(-36.919,0) scale(0.01074,-0.01074)"/><g transform="translate(0,-11)"><use href="#one" transform="translate(-7.786,0) scale(0.00684,-0.00684)"/></g></g>
<g transform="translate(84,312.50) scale(1,1.07)"><text x="-32.257" y="0" font-size="22"> 0<tspan font-size="14" dy="-11">0</tspan></text><use href="#one" transform="translate(-32.257,0) scale(0.01074,-0.01074)"/></g>
<g transform="translate(84,240.75) scale(1,1.07)"><text x="-32.257" y="0" font-size="22"> 0<tspan font-size="14" dy="-11"> </tspan></text><use href="#one" transform="translate(-32.257,0) scale(0.01074,-0.01074)"/><g transform="translate(0,-11)"><use href="#one" transform="translate(-7.786,0) scale(0.00684,-0.00684)"/></g></g>
<g transform="translate(84,169.00) scale(1,1.07)"><text x="-32.257" y="0" font-size="22"> 0<tspan font-size="14" dy="-11">2</tspan></text><use href="#one" transform="translate(-32.257,0) scale(0.01074,-0.01074)"/></g>
<g transform="translate(84,97.25) scale(1,1.07)"><text x="-32.257" y="0" font-size="22"> 0<tspan font-size="14" dy="-11">3</tspan></text><use href="#one" transform="translate(-32.257,0) scale(0.01074,-0.01074)"/></g>
<g transform="translate(84,25.50) scale(1,1.07)"><text x="-32.257" y="0" font-size="22"> 0<tspan font-size="14" dy="-11">4</tspan></text><use href="#one" transform="translate(-32.257,0) scale(0.01074,-0.01074)"/></g>
<text transform="translate(375,489) scale(1,1.06)" font-size="29.7" text-anchor="middle">Frequency (THz)</text>
<text transform="translate(26.1,222.2) rotate(-90) scale(1,1.06)" font-size="29.7" text-anchor="middle">Relaxation Time (ps)</text>
<rect x="439.80" y="38.70" width="9.40" height="9.40" fill="#fff" stroke="#000" stroke-width="1.15"/>
<rect x="444.50" y="38.12" width="5.28" height="10.55" fill="#000"/>
<g transform="translate(468.8,50.90) scale(1,1.03)"><text x="0" y="0" font-size="21">TA </text><use href="#one" transform="translate(26.834,0) scale(0.01025,-0.01025)"/></g>
<text transform="translate(513.3,50.90) scale(1,1.03)" font-size="21">(P=0 GPa)</text>
<circle cx="444.50" cy="69.48" r="5.35" fill="#fff" stroke="#f00" stroke-width="1.15"/>
<path d="M444.50,64.13 A5.35,5.35 0 0 1 444.50,74.83 Z" fill="#f00"/>
<text transform="translate(468.8,76.98) scale(1,1.03)" font-size="21">TA2</text>
<text transform="translate(513.3,76.98) scale(1,1.03)" font-size="21">(P=0 GPa)</text>
<path d="M444.50,88.49 L450.80,99.09 L438.20,99.09 Z" fill="#fff" stroke="#00f" stroke-width="1.15" stroke-linejoin="round"/>
<path d="M444.50,88.49 L450.80,99.09 L444.50,99.09 Z" fill="#00f" stroke="#00f" stroke-width="1.15" stroke-linejoin="round"/>
<text transform="translate(468.8,103.06) scale(1,1.03)" font-size="21">LA</text>
<text transform="translate(513.3,103.06) scale(1,1.03)" font-size="21">(P=0 GPa)</text>
<rect x="439.40" y="116.54" width="10.20" height="10.20" fill="#fff" stroke="#000" stroke-width="1.05"/>
<rect x="444.00" y="121.14" width="1" height="1" fill="#000" opacity="0.75"/>
<g transform="translate(468.8,129.14) scale(1,1.03)"><text x="0" y="0" font-size="21">TA </text><use href="#one" transform="translate(26.834,0) scale(0.01025,-0.01025)"/></g>
<text transform="translate(513.3,129.14) scale(1,1.03)" font-size="21">(P=3.06 GPa)</text>
<circle cx="444.50" cy="147.72" r="5.8" fill="#fff" stroke="#f00" stroke-width="1.05"/>
<rect x="444.00" y="147.22" width="1" height="1" fill="#f00" opacity="0.75"/>
<text transform="translate(468.8,155.22) scale(1,1.03)" font-size="21">TA2</text>
<text transform="translate(513.3,155.22) scale(1,1.03)" font-size="21">(P=3.06 GPa)</text>
<path d="M444.50,166.20 L451.30,177.60 L437.70,177.60 Z" fill="#fff" stroke="#00f" stroke-width="1.05" stroke-linejoin="round"/>
<rect x="444.00" y="173.30" width="1" height="1" fill="#00f" opacity="0.75"/>
<text transform="translate(468.8,181.30) scale(1,1.03)" font-size="21">LA</text>
<text transform="translate(513.3,181.30) scale(1,1.03)" font-size="21">(P=3.06 GPa)</text>
</g>
</svg></body></html>
